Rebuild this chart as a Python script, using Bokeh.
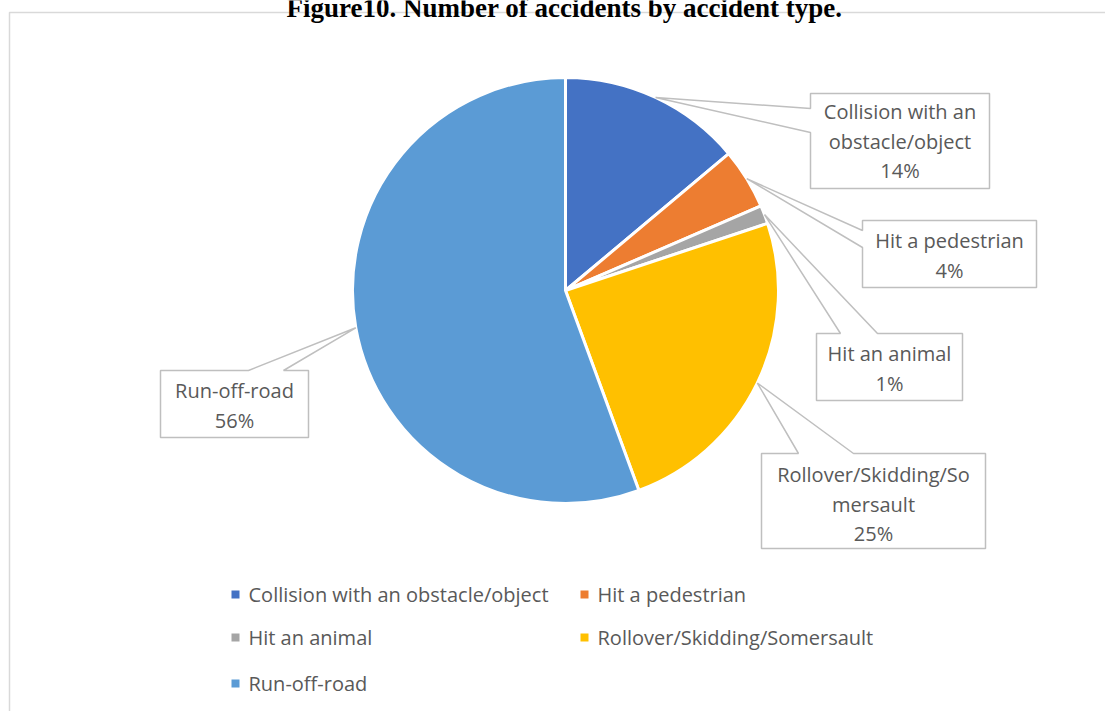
import math
from bokeh.plotting import figure
from bokeh.models import Range1d, ColumnDataSource
from bokeh.core.properties import value
from bokeh.embed import file_html
from bokeh.resources import INLINE

# ---------------- data ----------------
title = "Figure10. Number of accidents by accident type."
categories = ["Collision with an obstacle/object", "Hit a pedestrian", "Hit an animal",
              "Rollover/Skidding/Somersault", "Run-off-road"]
shares = [13.9, 4.6, 1.4, 24.5, 55.6]
pct_labels = ["14%", "4%", "1%", "25%", "56%"]
# wrapped category text as shown in the callouts
label_lines = [["Collision with an", "obstacle/object"], ["Hit a pedestrian"], ["Hit an animal"],
               ["Rollover/Skidding/So", "mersault"], ["Run-off-road"]]

# ---------------- style / layout ----------------
colors = ["#4472C4", "#ED7D31", "#A5A5A5", "#FFC000", "#5B9BD5"]
TXT = "#595959"
FONT = value("Open Sans")
W, H = 1105, 711


def Y(y):  # pixel (top-down) -> data (bottom-up)
    return H - y


p = figure(width=W, height=H, x_range=Range1d(0, W), y_range=Range1d(0, H),
           output_backend="svg", toolbar_location=None, min_border=0,
           x_axis_type=None, y_axis_type=None)
p.outline_line_color = None
p.grid.visible = False
p.background_fill_color = "white"
p.border_fill_color = "white"

# chart area border
p.quad(left=[9], right=[W + 20], top=[Y(12)], bottom=[-20], fill_color=None,
       line_color="#D9D9D9", line_width=1.5)

# title (clipped at top as in the source)
p.text(x=[564], y=[Y(7)], text=[title], text_font=value("Liberation Serif"),
       text_font_style="bold", text_font_size="27px", text_align="center",
       text_baseline="alphabetic", text_color="black")

# ---------------- pie ----------------
cx, cy, R = 565, Y(290), 213
total = sum(shares)
starts, ends, mids = [], [], []
c = 0.0
for s in shares:
    f0, f1 = c / total, (c + s) / total
    c += s
    # clockwise from 12 o'clock
    starts.append(math.pi / 2 - 2 * math.pi * f1)
    ends.append(math.pi / 2 - 2 * math.pi * f0)
    mids.append(math.pi / 2 - math.pi * (f0 + f1))

src = ColumnDataSource(dict(start=starts, end=ends, color=colors, cat=categories))
p.wedge(x=cx, y=cy, radius=R, start_angle="start", end_angle="end", direction="anticlock",
        fill_color="color", line_color="white", line_width=3, source=src)

# ---------------- callouts ----------------
# box: left, right, top, bottom (pixels, top-down); pointer side and two base points
boxes = [
    dict(L=810, R=989, T=93, B=188, side="left", a=108, b=132, ty=111),
    dict(L=862, R=1036, T=220, B=287, side="left", a=230, b=247, ty=240),
    dict(L=816, R=962, T=333, B=400, side="top", a=840, b=877, ty=353),
    dict(L=761, R=985, T=453, B=548, side="top", a=798, b=853, ty=474),
    dict(L=160, R=308, T=370, B=437, side="top", a=248, b=283, ty=390),
]
LH = 29.5
xs, ys = [], []
tx, ty, tt = [], [], []
for i, bx in enumerate(boxes):
    ax = cx + R * math.cos(mids[i])
    ay = cy + R * math.sin(mids[i])
    L, Rr, T, B = bx["L"], bx["R"], Y(bx["T"]), Y(bx["B"])
    if bx["side"] == "left":
        px = [L, Rr, Rr, L, L, ax, L]
        py = [T, T, B, B, Y(bx["b"]), ay, Y(bx["a"])]
    else:  # top
        px = [L, bx["a"], ax, bx["b"], Rr, Rr, L]
        py = [T, T, ay, T, T, B, B]
    xs.append(px)
    ys.append(py)
    lines = label_lines[i] + [pct_labels[i]]
    mx = (bx["L"] + bx["R"]) / 2
    for k, ln in enumerate(lines):
        tx.append(mx)
        ty.append(Y(bx["ty"] + k * LH))
        tt.append(ln)

p.patches(xs=xs, ys=ys, fill_color="white", line_color="#BFBFBF", line_width=1.5)
p.text(x=tx, y=ty, text=tt, text_align="center", text_baseline="middle",
       text_font=FONT, text_font_size="20px", text_color=TXT)

# ---------------- legend ----------------
leg_x = [235, 584, 235, 584, 235]
leg_y = [594, 594, 637, 637, 683]
p.rect(x=leg_x, y=[Y(v) for v in leg_y], width=8, height=8, fill_color=colors, line_color=None)
p.text(x=[v + 13 for v in leg_x], y=[Y(v) for v in leg_y], text=categories,
       text_align="left", text_baseline="middle", text_font=FONT,
       text_font_size="20px", text_color=TXT)

open("out.html", "w").write(file_html(p, INLINE))
